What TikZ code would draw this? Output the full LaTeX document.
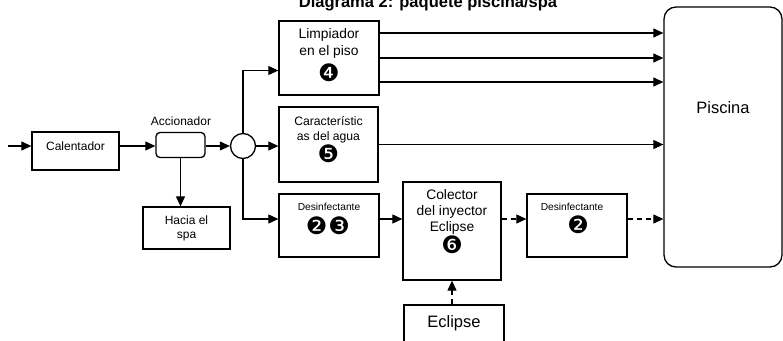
\documentclass[tikz,border=0pt]{standalone}
\usepackage{fontspec}
\setmainfont{Liberation Sans}
\newfontfamily\dingfont{DejaVu Sans}
\usetikzlibrary{arrows.meta,shapes.geometric}
\newcommand\myfs[2]{\fontsize{#1}{#2}\selectfont}
\begin{document}
\begin{tikzpicture}[x=1pt,y=-1pt,
  box/.style={draw, line width=1.3pt, inner sep=0pt},
  txt/.style={inner sep=0pt, align=center},
  ding/.style={inner sep=0pt, font=\dingfont\myfs{24}{24}},
  arr/.style={line width=1.1pt, -{Triangle[length=10pt,width=9pt]}},
  dsh/.style={arr, dash pattern=on 5pt off 4pt}]
\useasboundingbox (0,0) rectangle (783,340);
\clip (0,0) rectangle (783,340);
\fill[white] (0,0) rectangle (783,340);

\node[txt, font=\myfs{16.5}{20}\bfseries, anchor=base] (title) at (428,8) {Diagrama 2: paquete piscina/spa};

% Piscina
\node[box, rounded corners=12pt, minimum width=118pt, minimum height=260pt] (pisc) at (723,137) {};
\node[txt, font=\myfs{16.5}{20}] (pisctext) at (723,108) {Piscina};

% Calentador
\coordinate (in) at (8,146);
\node[box, minimum width=87pt, minimum height=38pt] (cal) at (75.5,151) {};
\node[txt, font=\myfs{12}{14}] (caltext) at (75.5,146) {Calentador};

% Accionador
\node[box, rounded corners=4pt, minimum width=49pt, minimum height=25pt] (acc) at (180.5,145) {};
\node[txt, font=\myfs{12}{14}] (acclabel) at (181,121) {Accionador};

% circle
\node[box, circle, minimum size=25pt] (circ) at (243,146) {};

% Limpiador
\node[box, minimum width=100pt, minimum height=74pt] (limp) at (329,58) {};
\node[txt, font=\myfs{13.8}{17}] (limptext) at (329,43.5) {Limpiador\\en el piso};
\node[ding] (n4) at (329,73) {❹};

% Caracteristicas
\node[box, minimum width=99pt, minimum height=75pt] (car) at (328.5,144.5) {};
\node[txt, font=\myfs{12.2}{15}] (cartext) at (328.5,129.5) {Característic\\as del agua};
\node[ding] (n5) at (328.5,154) {❺};

% Desinfectante A
\node[box, minimum width=100pt, minimum height=63pt] (desA) at (329,225.5) {};
\node[txt, font=\myfs{10.2}{12}] (desAtext) at (329,207) {Desinfectante};
\node[ding] (n23) at (328,226) {❷\kern1pt❸};

% Hacia el spa
\node[box, minimum width=87pt, minimum height=42pt] (spa) at (186.5,228) {};
\node[txt, font=\myfs{12}{14}] (spatext) at (186.5,228) {Hacia el\\spa};

% Colector
\node[box, minimum width=98pt, minimum height=98pt] (col) at (452,231) {};
\node[txt, font=\myfs{13.8}{16}] (coltext) at (452,212) {Colector\\del inyector\\Eclipse};
\node[ding] (n6) at (452,245) {❻};

% Desinfectante B
\node[box, minimum width=100pt, minimum height=63pt] (desB) at (577,225.5) {};
\node[txt, font=\myfs{10.2}{12}] (desBtext) at (572,207) {Desinfectante};
\node[ding] (n2) at (578,225) {❷};

% Eclipse
\node[box, minimum width=100pt, minimum height=50pt] (ecl) at (454,330) {};
\node[txt, font=\myfs{16.5}{20}] (ecltext) at (454,323) {Eclipse};

% connectors
\coordinate (r1) at (0,70.5);
\coordinate (r3) at (0,219);
\draw[arr] (in) -- (cal.west |- caltext);
\draw[arr] (cal.east |- caltext) -- (acc.west |- caltext);
\draw[arr] (acc.east |- caltext) -- (circ.west);
\draw[arr] (circ.east) -- (circ.east -| car.west);
\draw[arr] (circ.north) |- (r1 -| limp.west);
\draw[arr] (circ.south) |- (r3 -| desA.west);
\draw[arr] (acc.south) -- (acc.south |- spa.north);
\foreach \s in {25,0,-24}
  \draw[arr] ([yshift=\s pt]limp.east) -- ([yshift=\s pt]limp.east -| pisc.west);
\draw[arr] (car.east) -- (car.east -| pisc.west);
\draw[arr] (desA.east |- r3) -- (col.west |- r3);
\draw[dsh] (col.east |- r3) -- (desB.west |- r3);
\draw[dsh] (desB.east |- r3) -- (pisc.west |- r3);
\draw[dsh] (col.south |- ecl.north) -- (col.south);
\end{tikzpicture}
\end{document}
